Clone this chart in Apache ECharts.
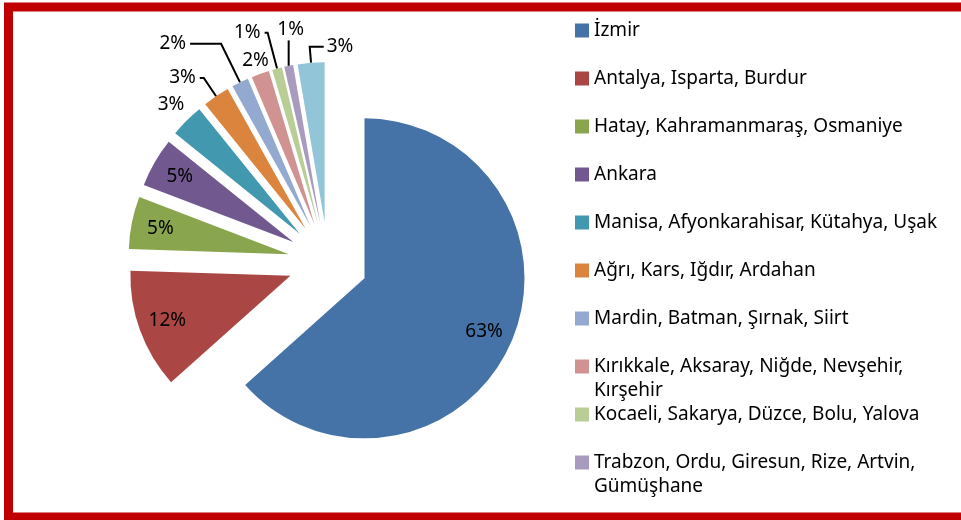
<!DOCTYPE html>
<html>
<head>
<meta charset="utf-8">
<script src="https://cdn.jsdelivr.net/npm/echarts@6/dist/echarts.min.js"></script>
<style>
    html, body { margin: 0; padding: 0; background: #fff; }
    #main { width: 961px; height: 520px; }
</style>
</head>
<body>
<div id="main"></div>
<script>
var regions = ['İzmir', 'Antalya, Isparta, Burdur', 'Hatay, Kahramanmaraş, Osmaniye', 'Ankara',
    'Manisa, Afyonkarahisar, Kütahya, Uşak', 'Ağrı, Kars, Iğdır, Ardahan', 'Mardin, Batman, Şırnak, Siirt',
    'Kırıkkale, Aksaray, Niğde, Nevşehir, Kırşehir', 'Kocaeli, Sakarya, Düzce, Bolu, Yalova',
    'Trabzon, Ordu, Giresun, Rize, Artvin, Gümüşhane', 'Diğer'];
var shares = [63.4, 12.1, 5.3, 5.0, 3.4, 2.7, 1.7, 1.8, 1.0, 0.9, 2.7]; // %
var legendNames = regions.slice(0, 10); // son dilim lejantta görünmüyor

var colors = ['#4572A7', '#AA4643', '#89A54E', '#71588F', '#4198AF', '#DB843D',
    '#93A9CF', '#D19392', '#B9CD96', '#A99BBD', '#92C5D7'];
// dış etiketler: çizgi uzunluğu, yatay uzunluk, yerleşim şekli
var lineLen  = [0, 0, 0, 0, 22, 22, 43, 14, 37, 26, 16];
var lineLen2 = [0, 0, 0, 0, 0, 4, 31, 0, 3, 0, 14];
var labelMode = ['in', 'in', 'in', 'in', 'center', 'side', 'side', 'center', 'side', 'above', 'flip'];

(function () {
    var myChart = echarts.init(document.getElementById('main'));
    var font = 'Noto Sans';
    var pct = function (p) { return Math.round(p.percent) + '%'; };

    // Excel lejantı: sabit satır aralığı, uzun ad ikinci satıra taşar
    var legends = legendNames.map(function (name, i) {
        return {
            orient: 'vertical',
            left: 575,
            top: 21 + i * 48,
            padding: 0,
            icon: 'rect',
            itemWidth: 14,
            itemHeight: 14,
            selectedMode: false,
            data: [name],
            formatter: function (n) {
                var s = n.length > 40 ? n.replace(/, (?=[^,]*$)/, ',\n') : n;
                return s.split('\n').map(function (l) { return '{t|' + l + '}'; }).join('\n');
            },
            textStyle: {
                height: 24,
                rich: {
                    t: { color: '#000', fontFamily: font, fontSize: 19, lineHeight: 24 }
                }
            }
        };
    });

    var option = {
        animation: false,
        color: colors,
        graphic: [{
            type: 'rect',
            silent: true,
            shape: { x: 8.5, y: 7, width: 1000, height: 510 },
            style: { fill: 'none', stroke: '#C00000', lineWidth: 9 }
        }],
        legend: legends,
        series: [
            {
                name: 'dilimler',
                type: 'pie',
                center: [328, 262],
                radius: 160,
                startAngle: 90,
                clockwise: true,
                selectedMode: 'multiple',
                selectedOffset: 40,
                avoidLabelOverlap: false,
                itemStyle: { borderWidth: 0 },
                select: { itemStyle: { borderWidth: 0 } },
                emphasis: { disabled: true },
                label: {
                    show: true,
                    position: 'outside',
                    color: '#000',
                    fontFamily: font,
                    fontSize: 19,
                    formatter: pct
                },
                labelLine: {
                    smooth: false,
                    lineStyle: { color: '#000', width: 2 }
                },
                labelLayout: function (params) {
                    var mode = labelMode[params.dataIndex];
                    var r = params.labelRect;
                    var pts = params.labelLinePoints;
                    var out = { hideOverlap: false, moveOverlap: false };
                    if (mode === 'center') {
                        out.dx = r.width / 2;
                    } else if (mode === 'above' && pts) {
                        // dik çizgi, etiket üstünde ortalı
                        var top = [pts[0][0], pts[1][1]];
                        out.labelLinePoints = [pts[0], top, top];
                        out.dx = pts[0][0] + 2 - (r.x + r.width / 2);
                        out.dy = (top[1] - 1) - (r.y + r.height);
                    } else if (mode === 'flip' && pts) {
                        var end = [2 * pts[1][0] - pts[2][0], pts[2][1]];
                        out.labelLinePoints = [pts[0], pts[1], end];
                        out.dx = end[0] + 3 - r.x;
                    }
                    return out;
                },
                data: regions.map(function (n, i) {
                    var mode = labelMode[i];
                    var withLine = mode === 'side' || mode === 'above' || mode === 'flip';
                    return {
                        name: n,
                        value: shares[i],
                        selected: true,
                        label: { show: mode !== 'in', distanceToLabelLine: withLine ? 4 : 0 },
                        labelLine: { show: withLine, length: lineLen[i], length2: lineLen2[i] }
                    };
                })
            },
            {
                // büyük dilimlerin iç etiketleri için saydam halka
                name: 'etiket',
                type: 'pie',
                center: [328, 262],
                radius: [96, 160],
                startAngle: 90,
                clockwise: true,
                selectedMode: 'multiple',
                selectedOffset: 40,
                silent: true,
                itemStyle: { color: 'rgba(0,0,0,0)', borderWidth: 0 },
                select: { itemStyle: { color: 'rgba(0,0,0,0)', borderWidth: 0 } },
                emphasis: { disabled: true },
                label: {
                    position: 'inside',
                    color: '#000',
                    fontFamily: font,
                    fontSize: 19,
                    formatter: pct
                },
                labelLine: { show: false },
                data: regions.map(function (n, i) {
                    return { name: n, value: shares[i], selected: true, label: { show: labelMode[i] === 'in' } };
                })
            }
        ]
    };

    myChart.setOption(option);
    window.addEventListener("resize", function () {
        myChart.resize();
    });
})();
</script>
</body>
</html>
